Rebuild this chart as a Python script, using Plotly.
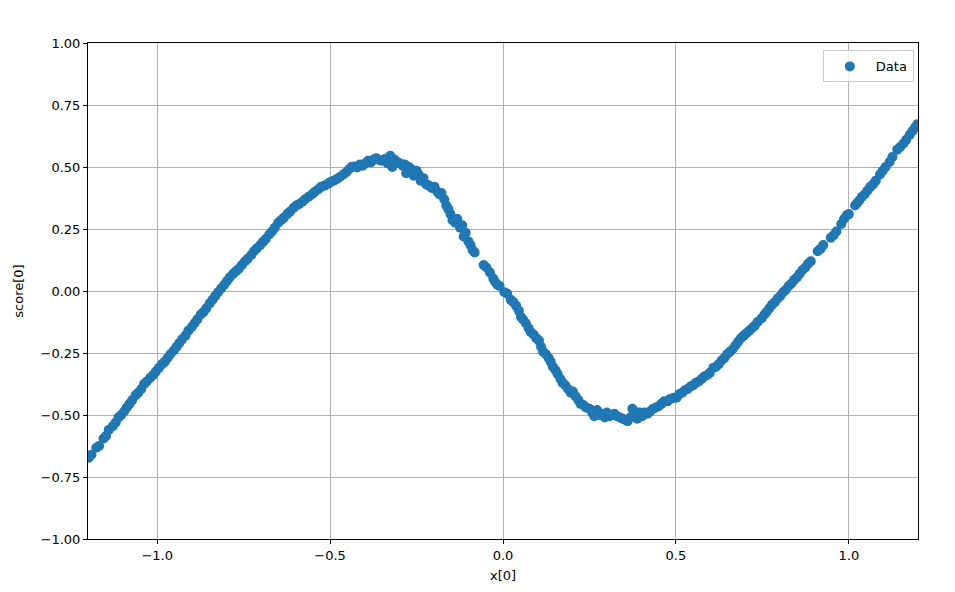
import plotly.graph_objects as go

# points
x_data = [
    -1.198, -1.19, -1.176, -1.168, -1.155, -1.148, -1.14, -1.128, -1.12, -1.112,
    -1.104, -1.095, -1.088, -1.08, -1.072, -1.062, -1.055, -1.046, -1.038, -1.03,
    -1.02, -1.012, -1.004, -0.995, -0.986, -0.978, -0.97, -0.962, -0.952, -0.944,
    -0.936, -0.928, -0.918, -0.91, -0.9, -0.892, -0.884, -0.874, -0.866, -0.858,
    -0.848, -0.84, -0.832, -0.824, -0.815, -0.806, -0.798, -0.79,
    -0.78, -0.772, -0.764, -0.755, -0.746, -0.738, -0.728, -0.72, -0.712, -0.702,
    -0.694, -0.686, -0.676, -0.668, -0.66, -0.65, -0.642, -0.634, -0.624, -0.616,
    -0.606, -0.598, -0.59, -0.58, -0.572, -0.562, -0.552, -0.544, -0.534, -0.526,
    -0.516, -0.506, -0.498, -0.49, -0.48, -0.472, -0.462, -0.454, -0.446, -0.438,
    -0.43, -0.422, -0.414, -0.406, -0.398, -0.39, -0.382, -0.374, -0.366, -0.358,
    -0.35, -0.342, -0.334, -0.326, -0.32, -0.314, -0.306, -0.298, -0.29, -0.284,
    -0.28, -0.272, -0.264, -0.258, -0.25, -0.244, -0.238, -0.23, -0.222, -0.214,
    -0.206, -0.198, -0.19, -0.184, -0.178, -0.17, -0.164,
    -0.158, -0.152, -0.146, -0.138, -0.132, -0.124, -0.118, -0.114, -0.108, -0.1,
    -0.094, -0.088, -0.082, -0.056, -0.048, -0.038, -0.028, -0.022, -0.016, -0.01,
    0.004, 0.012, 0.022, 0.03, 0.038, 0.046, 0.052, 0.058, 0.066, 0.074,
    0.08, 0.088, 0.096, 0.104, 0.11, 0.116, 0.124, 0.132, 0.138, 0.144,
    0.152, 0.158, 0.166, 0.172, 0.18, 0.188, 0.196, 0.202, 0.21, 0.218,
    0.224, 0.232, 0.24,
    0.25, 0.258, 0.264, 0.272, 0.278, 0.286, 0.294, 0.3, 0.308, 0.316,
    0.322, 0.33, 0.338, 0.346, 0.354, 0.36, 0.368, 0.374, 0.38, 0.388,
    0.394, 0.402, 0.41, 0.418, 0.426, 0.434, 0.442, 0.45, 0.458, 0.466,
    0.476, 0.484, 0.494, 0.502,
    0.51, 0.518, 0.526, 0.534, 0.542, 0.55, 0.558, 0.566, 0.574, 0.582,
    0.59, 0.598, 0.608, 0.616, 0.624, 0.632, 0.64, 0.648, 0.656, 0.664,
    0.672, 0.68, 0.688, 0.696, 0.704, 0.712, 0.72, 0.728, 0.736,
    0.748, 0.756, 0.762, 0.77, 0.778, 0.786, 0.794, 0.802, 0.81, 0.818,
    0.826, 0.834, 0.842, 0.85, 0.858, 0.866, 0.874, 0.882, 0.89,
    0.91, 0.918, 0.926, 0.948, 0.956, 0.964, 0.978, 0.986, 0.994, 1.0,
    1.018, 1.024, 1.03, 1.038, 1.046, 1.054, 1.062, 1.07, 1.078, 1.09,
    1.098, 1.106, 1.118, 1.126, 1.14, 1.148, 1.158, 1.166, 1.176, 1.184,
    1.192, 1.198,
]
y_data = [
    -0.672, -0.66, -0.632, -0.625, -0.595, -0.585, -0.56, -0.545, -0.53, -0.51,
    -0.5, -0.485, -0.47, -0.455, -0.44, -0.42, -0.41, -0.395, -0.375, -0.365,
    -0.35, -0.34, -0.325, -0.31, -0.295, -0.285, -0.27, -0.255, -0.24, -0.225,
    -0.21, -0.195, -0.18, -0.16, -0.145, -0.13, -0.115, -0.095, -0.085, -0.07,
    -0.05, -0.035, -0.02, -0.005, 0.01, 0.025, 0.04, 0.055,
    0.07, 0.08, 0.09, 0.105, 0.12, 0.13, 0.145, 0.16, 0.172, 0.185,
    0.198, 0.21, 0.228, 0.24, 0.255, 0.275, 0.285, 0.295, 0.31, 0.32,
    0.335, 0.345, 0.35, 0.36, 0.37, 0.38, 0.39, 0.4, 0.41, 0.42,
    0.425, 0.432, 0.44, 0.445, 0.452, 0.46, 0.47, 0.478, 0.49, 0.5,
    0.502, 0.498, 0.51, 0.505, 0.515, 0.525, 0.518, 0.53, 0.535, 0.528,
    0.525, 0.532, 0.515, 0.545, 0.5, 0.53, 0.52, 0.515, 0.505, 0.51,
    0.475, 0.5, 0.49, 0.465, 0.485, 0.47, 0.445, 0.455, 0.43, 0.425,
    0.415, 0.42, 0.4, 0.39, 0.395, 0.37, 0.345,
    0.33, 0.31, 0.285, 0.275, 0.29, 0.255, 0.265, 0.22, 0.235, 0.2,
    0.185, 0.165, 0.155, 0.105, 0.095, 0.075, 0.05, 0.035, 0.025, 0.02,
    -0.005, -0.01, -0.035, -0.045, -0.06, -0.08, -0.105, -0.115, -0.13, -0.15,
    -0.165, -0.175, -0.19, -0.2, -0.225, -0.245, -0.255, -0.27, -0.285, -0.305,
    -0.32, -0.335, -0.355, -0.37, -0.38, -0.395, -0.41, -0.405, -0.425, -0.44,
    -0.455, -0.46, -0.47,
    -0.475, -0.49, -0.505, -0.48, -0.5, -0.495, -0.51, -0.49, -0.505, -0.5,
    -0.495, -0.505, -0.51, -0.515, -0.52, -0.525, -0.51, -0.475, -0.485, -0.515,
    -0.49, -0.505, -0.49, -0.495, -0.485, -0.475, -0.47, -0.465, -0.455, -0.445,
    -0.445, -0.435, -0.43, -0.43,
    -0.415, -0.41, -0.4, -0.395, -0.385, -0.38, -0.37, -0.365, -0.355, -0.345,
    -0.34, -0.33, -0.31, -0.305, -0.295, -0.28, -0.27, -0.255, -0.245, -0.235,
    -0.22, -0.205, -0.19, -0.18, -0.17, -0.16, -0.15, -0.14, -0.125,
    -0.11, -0.095, -0.085, -0.07, -0.055, -0.045, -0.03, -0.02, -0.005, 0.005,
    0.02, 0.03, 0.045, 0.055, 0.07, 0.085, 0.095, 0.11, 0.12,
    0.16, 0.17, 0.185, 0.215, 0.225, 0.24, 0.27, 0.29, 0.305, 0.31,
    0.345, 0.355, 0.365, 0.38, 0.39, 0.405, 0.42, 0.43, 0.445, 0.47,
    0.485, 0.5, 0.52, 0.54, 0.57, 0.58, 0.595, 0.61, 0.63, 0.645,
    0.66, 0.672,
]

x_ticks = [-1.0, -0.5, 0.0, 0.5, 1.0]
y_ticks = [-1.0, -0.75, -0.5, -0.25, 0.0, 0.25, 0.5, 0.75, 1.0]

fig = go.Figure()

fig.add_trace(go.Scatter(
    x=x_data,
    y=y_data,
    mode='markers',
    name='Data',
    marker=dict(color='#1f77b4', size=10, line=dict(width=0)),
))

axis_style = dict(
    showline=True, linecolor='black', linewidth=1, mirror=True,
    showgrid=True, gridcolor='#b0b0b0', gridwidth=1,
    ticks='outside', ticklen=4, tickcolor='black',
    zeroline=False, automargin=False,
    tickfont=dict(size=13, color='black'),
)

fig.update_xaxes(range=[-1.2, 1.2], tickvals=x_ticks, tickformat='.1f',
                 title=dict(text='x[0]', font=dict(size=13, color='black'), standoff=9),
                 **axis_style)
fig.update_yaxes(range=[-1, 1], tickvals=y_ticks, tickformat='.2f',
                 title=dict(text='score[0]', font=dict(size=13, color='black'), standoff=14),
                 **axis_style)

# page body has an 8px margin, so shrink the figure to keep the plot area in place
fig.update_layout(
    width=947, height=584,
    margin=dict(l=80, r=37, t=35, b=53),
    plot_bgcolor='white', paper_bgcolor='white',
    font=dict(family='DejaVu Sans', color='black'),
    showlegend=True,
    legend=dict(x=0.995, y=0.985, xanchor='right', yanchor='top', itemwidth=42,
                bordercolor='#cccccc', borderwidth=1, bgcolor='rgba(255,255,255,0.8)',
                font=dict(size=13)),
)

fig.write_html("out.html")
